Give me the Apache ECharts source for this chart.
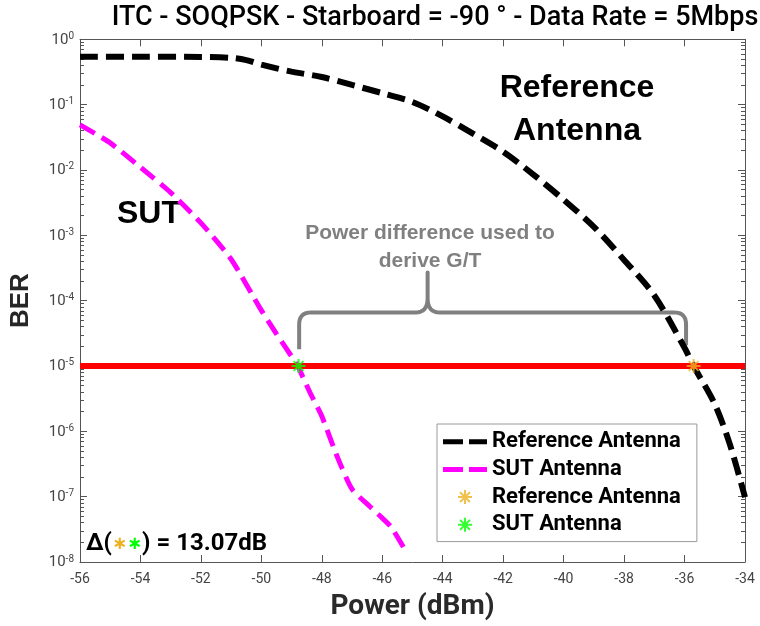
<!DOCTYPE html>
<html>
<head>
<meta charset="utf-8">
<script src="https://cdn.jsdelivr.net/npm/echarts@6/dist/echarts.min.js"></script>
<style>
  html, body { margin: 0; padding: 0; background: #fff; }
  #chart { width: 760px; height: 626px; }
</style>
</head>
<body>
<div id="chart"></div>
<script>
// power axis ticks (dBm)
const powerTicks = [-56, -54, -52, -50, -48, -46, -44, -42, -40, -38, -36, -34];

// reference antenna BER curve
const refPower = [-56, -54, -52, -51, -50.5, -50, -49, -48, -47, -46, -45, -44, -43, -42, -41, -40, -39, -38, -37, -36, -35.7, -35, -34.5, -34];
const refBer = [0.54, 0.54, 0.537, 0.52, 0.48, 0.41, 0.32, 0.265, 0.2, 0.15, 0.11, 0.066, 0.036, 0.019, 8.5e-3, 3.5e-3, 1.35e-3, 4.2e-4, 1.2e-4, 1.9e-5, 1.0e-5, 2.6e-6, 6.3e-7, 9.8e-8];

// SUT antenna BER curve
const sutPower = [-56, -55, -54, -53, -52, -51, -50, -49.5, -49, -48.8, -48.4, -48, -47.5, -47, -46.4, -46, -45.7, -45.2];
const sutBer = [0.049, 0.026, 0.011, 4.5e-3, 1.55e-3, 4.3e-4, 7.1e-5, 3.1e-5, 1.4e-5, 1.0e-5, 4.0e-6, 1.7e-6, 4.2e-7, 1.3e-7, 7.0e-8, 4.7e-8, 3.4e-8, 1.4e-8];

// BER threshold and crossing points
const targetBer = 1e-5;
const thresholdPower = [-56, -34];
const refCross = [-35.70, 1e-5];
const sutCross = [-48.77, 1e-5];
const deltaDb = 13.07;

// brace annotation anchors (data units)
const braceX = [-48.75, -44.5, -35.95];
const braceY = [1.8e-5, 6.6e-5, 2.7e-4];

const yMin = 1e-8;
const yMax = 1;

// minor log ticks 2..9 per decade
const minorTicks = [];
for (let d = -8; d < 0; d++) {
  for (let m = 2; m <= 9; m++) {
    minorTicks.push(m * Math.pow(10, d));
  }
}

const axisGrey = '#555';
const labelGrey = '#444';
const star = 'path://M0,-10L0,10M-10,0L10,0M-7,-7L7,7M-7,7L7,-7';
const dashIcon = 'path://M0,0H20V5H0ZM26,0H44V5H26Z';

const chart = echarts.init(document.getElementById('chart'));

const yCommon = {
  type: 'log',
  logBase: 10,
  min: yMin,
  max: yMax,
  splitLine: { show: false },
  axisLine: { show: true, onZero: false, lineStyle: { color: axisGrey, width: 1 } }
};

const xCommon = {
  type: 'value',
  min: powerTicks[0],
  max: powerTicks[powerTicks.length - 1],
  interval: 2,
  splitLine: { show: false },
  axisLine: { show: true, onZero: false, lineStyle: { color: axisGrey, width: 1 } },
  axisTick: { inside: true, length: 7, lineStyle: { color: axisGrey } }
};

chart.setOption({
  animation: false,
  backgroundColor: '#fff',
  title: {
    text: 'ITC - SOQPSK - Starboard = -90 \u00b0 - Data Rate = 5Mbps',
    left: 430,
    top: 0,
    textAlign: 'center',
    textStyle: { fontFamily: 'Roboto', fontSize: 27, fontWeight: 500, color: '#000' }
  },
  grid: { left: 79.5, right: 15, top: 39.3, bottom: 63.5, containLabel: false },
  legend: {
    orient: 'vertical',
    left: 437,
    top: 424,
    padding: [6.7, 16, 5.8, 6],
    itemWidth: 44,
    itemHeight: 14,
    itemGap: 5.7,
    borderColor: '#9a9a9a',
    borderWidth: 1,
    backgroundColor: '#fff',
    textStyle: { fontFamily: 'Roboto', fontWeight: 'bold', fontSize: 22, color: '#000', lineHeight: 20 },
    formatter: name => name.trim(),
    data: [
      { name: 'Reference Antenna', icon: dashIcon },
      { name: 'SUT Antenna', icon: dashIcon },
      'Reference Antenna ',
      'SUT Antenna '
    ]
  },
  xAxis: [
    {
      ...xCommon,
      position: 'bottom',
      name: 'Power (dBm)',
      nameLocation: 'middle',
      nameGap: 31,
      nameTextStyle: { fontFamily: 'Roboto', fontWeight: 'bold', fontSize: 28, color: '#2a2a2a' },
      axisLabel: { margin: 10, fontFamily: 'Roboto', fontSize: 14, color: labelGrey }
    },
    {
      ...xCommon,
      position: 'top',
      axisLabel: { show: false }
    }
  ],
  yAxis: [
    {
      ...yCommon,
      position: 'left',
      splitNumber: 8,
      name: 'BER',
      nameLocation: 'middle',
      nameGap: 46,
      nameTextStyle: { fontFamily: 'Liberation Sans', fontWeight: 'bold', fontSize: 26, color: '#262626' },
      axisTick: { inside: true, length: 7, lineStyle: { color: axisGrey } },
      axisLabel: {
        margin: 6,
        formatter: v => '{b|10}{s|' + Math.round(Math.log10(v)) + '}',
        rich: {
          b: { fontFamily: 'Roboto', fontSize: 15, color: labelGrey, lineHeight: 16, verticalAlign: 'bottom' },
          s: { fontFamily: 'Roboto', fontSize: 10, color: labelGrey, lineHeight: 10, verticalAlign: 'top', padding: [0, 0, 10, 0] }
        }
      }
    },
    {
      ...yCommon,
      position: 'left',
      axisLine: { show: false },
      axisTick: { inside: true, length: 4, customValues: minorTicks, lineStyle: { color: axisGrey } },
      axisLabel: { show: false }
    },
    {
      ...yCommon,
      position: 'right',
      splitNumber: 8,
      axisTick: { inside: true, length: 7, lineStyle: { color: axisGrey } },
      axisLabel: { show: false }
    },
    {
      ...yCommon,
      position: 'right',
      axisLine: { show: false },
      axisTick: { inside: true, length: 4, customValues: minorTicks, lineStyle: { color: axisGrey } },
      axisLabel: { show: false }
    }
  ],
  series: [
    {
      name: 'Reference Antenna',
      type: 'line',
      symbol: 'none',
      smooth: 0.3,
      data: refPower.map((p, i) => [p, refBer[i]]),
      lineStyle: { color: '#000', width: 6, type: [18, 8] },
      itemStyle: { color: '#000' },
      z: 3
    },
    {
      name: 'SUT Antenna',
      type: 'line',
      symbol: 'none',
      smooth: 0.2,
      data: sutPower.map((p, i) => [p, sutBer[i]]),
      lineStyle: { color: '#ff00ff', width: 5, type: [17, 8] },
      itemStyle: { color: '#ff00ff' },
      z: 3
    },
    {
      name: 'threshold',
      type: 'line',
      symbol: 'none',
      data: thresholdPower.map(p => [p, targetBer]),
      lineStyle: { color: '#ff0000', width: 6 },
      z: 4
    },
    {
      name: 'Reference Antenna ',
      type: 'scatter',
      symbol: star,
      symbolSize: 14,
      symbolKeepAspect: true,
      data: [refCross],
      itemStyle: { color: '#edb120', borderColor: '#edb120', borderWidth: 2 },
      z: 5
    },
    {
      name: 'SUT Antenna ',
      type: 'scatter',
      symbol: star,
      symbolSize: 14,
      symbolKeepAspect: true,
      data: [sutCross],
      itemStyle: { color: '#00ff00', borderColor: '#00ff00', borderWidth: 2 },
      z: 5
    }
  ]
});

// brace: sampled from data-anchored points
const px = (x, y) => chart.convertToPixel({ gridIndex: 0 }, [x, y]);
const bl = px(braceX[0], braceY[0]);
const bm = px(braceX[1], braceY[1]);
const bt = px(braceX[1], braceY[2]);
const br = px(braceX[2], braceY[0]);
const xl = bl[0], xc = bm[0], xr = br[0];
const yb = bl[1], yh = bm[1], yt = bt[1];
const r = 12;
const quad = (a, c, b) => {
  const pts = [];
  for (let i = 1; i <= 8; i++) {
    const t = i / 8;
    pts.push([
      (1 - t) * (1 - t) * a[0] + 2 * (1 - t) * t * c[0] + t * t * b[0],
      (1 - t) * (1 - t) * a[1] + 2 * (1 - t) * t * c[1] + t * t * b[1]
    ]);
  }
  return pts;
};
const bracePts = [
  [xl, yb], [xl, yh + r],
  ...quad([xl, yh + r], [xl, yh], [xl + r, yh]),
  [xc - r, yh],
  ...quad([xc - r, yh], [xc, yh], [xc, yh - 14]),
  [xc, yt], [xc, yh - 14],
  ...quad([xc, yh - 14], [xc, yh], [xc + r, yh]),
  [xr - r, yh],
  ...quad([xr - r, yh], [xr, yh], [xr, yh + r]),
  [xr, yb - 4]
];

chart.setOption({
  graphic: [
    {
      type: 'polyline',
      shape: { points: bracePts },
      style: { stroke: '#808080', lineWidth: 4, fill: null, lineJoin: 'round' },
      z: 2
    },
    {
      type: 'text',
      x: 577,
      y: 110,
      style: {
        text: 'Reference\nAntenna',
        fontFamily: 'Liberation Sans', fontWeight: 'bold', fontSize: 32, lineHeight: 43,
        fill: '#000', align: 'center', verticalAlign: 'middle'
      }
    },
    {
      type: 'text',
      x: 149,
      y: 214,
      style: {
        text: 'SUT',
        fontFamily: 'Liberation Sans', fontWeight: 'bold', fontSize: 32,
        fill: '#000', align: 'center', verticalAlign: 'middle'
      }
    },
    {
      type: 'text',
      x: 430,
      y: 247,
      style: {
        text: 'Power difference used to\nderive G/T',
        fontFamily: 'Liberation Sans', fontWeight: 'bold', fontSize: 21, lineHeight: 28,
        fill: '#808080', align: 'center', verticalAlign: 'middle'
      }
    },
    {
      type: 'text',
      x: 86,
      y: 544,
      style: {
        text: '{d|\u0394(}{o|\u2217}{g|\u2217}{d|) = ' + deltaDb.toFixed(2) + 'dB}',
        align: 'left',
        verticalAlign: 'middle',
        rich: {
          d: { fontFamily: 'Roboto', fontWeight: 'bold', fontSize: 24, fill: '#000' },
          o: { fontFamily: 'DejaVu Sans', fontWeight: 'bold', fontSize: 18, fill: '#edb120' },
          g: { fontFamily: 'DejaVu Sans', fontWeight: 'bold', fontSize: 18, fill: '#00ff00' }
        }
      }
    }
  ]
});
</script>
</body>
</html>
